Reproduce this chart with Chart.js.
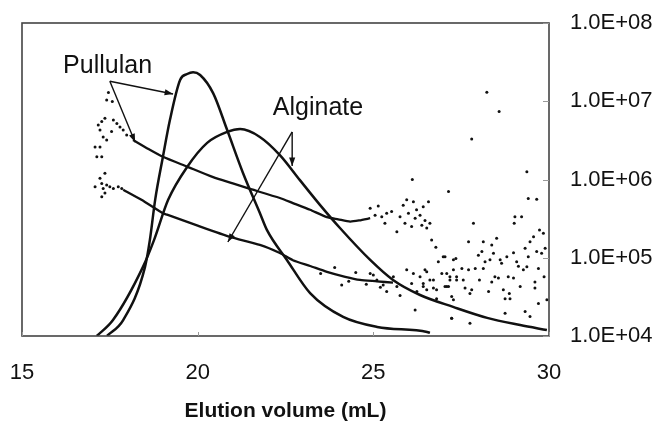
<!DOCTYPE html>
<html>
<head>
<meta charset="utf-8">
<script src="https://cdn.jsdelivr.net/npm/chart.js@4.4.0/dist/chart.umd.min.js"></script>
<style>
  body { margin: 0; background: #fff; }
</style>
</head>
<body>
<canvas id="gpc" width="659" height="425"></canvas>
<script>
// refractive index traces: [elution volume (mL), relative signal]
const pullulanRI = [[17.42,0],[17.88,5.1],[18.5,22],[18.64,30.7],[18.79,43.5],[19.01,57.2],[19.21,69],[19.5,81.8],
  [19.7,83.7],[19.87,84.3],[20.07,83.4],[20.44,77.6],[20.84,65.8],[21.29,52.1],[21.77,39.3],[21.97,33.9],
  [22.54,24.3],[23.2,13.7],[24.14,6.1],[25.11,2.9],[26.53,1.3],[26.61,1.0]];
const alginateRI = [[17.13,0],[17.59,5.1],[18.44,22],[18.76,30.7],[19.16,43.5],[19.7,54],[20.27,61.7],[20.84,65.2],
  [21.21,66.1],[21.77,63.6],[22.34,57.8],[22.91,49.8],[23.48,41.9],[24.05,34.5],[24.91,24.3],[25.56,17.9],
  [26.33,13.1],[27.27,9.3],[28.24,5.8],[29.18,3.5],[29.94,1.9]];

// molar mass traces: [elution volume (mL), g/mol]
const pullulanMw = [[18.16,3.2e6],[18.6,2.45e6],[19.01,1.95e6],[19.7,1.46e6],[20.44,1.07e6],[21.0,8.9e5],[21.4,7.8e5],
  [22.34,5.8e5],[22.71,5.0e5],[23.2,4.1e5],[23.68,3.3e5],[24.0,3.1e5],[24.34,2.9e5],[24.6,3.0e5],[24.91,3.2e5]];
const alginateMw = [[17.88,7.4e5],[18.4,5.5e5],[19.01,3.7e5],[19.13,3.55e5],[20.0,2.57e5],[20.92,1.85e5],[21.77,1.46e5],
  [22.34,1.15e5],[22.71,9.3e4],[23.2,7.85e4],[23.68,6.6e4],[24.2,5.7e4],[24.62,5.2e4],[25.1,5.0e4],[25.56,4.8e4]];

const pullulanDots = [[17.46,1.29e7],[17.41,1.04e7],[17.57,9.9e6],[17.36,6.05e6],[17.27,5.5e6],[17.17,4.97e6],
  [17.22,4.3e6],[17.31,3.5e6],[17.41,3.2e6],[17.55,4.1e6],[17.6,5.75e6],[17.7,5.2e6],[17.79,4.7e6],[17.88,4.3e6],
  [17.08,2.6e6],[17.22,2.6e6],[17.13,1.95e6],[17.27,1.95e6],[17.98,3.7e6],
  [24.91,4.3e5],[25.05,3.5e5],[25.14,4.6e5],[25.24,3.35e5],[25.33,2.75e5],[25.38,3.7e5],[25.52,3.9e5],[25.67,2.15e5],
  [25.76,3.35e5],[25.85,4.7e5],[25.9,2.75e5],[25.95,5.5e5],[26.0,3.7e5],[26.09,2.5e5],[26.14,5.2e5],[26.19,3.2e5],
  [26.23,4.1e5],[26.33,3.5e5],[26.38,2.6e5],[26.42,4.5e5],[26.47,3.0e5],[26.52,2.4e5],[26.57,5.2e5],[26.61,2.75e5],
  [26.11,1.0e6]];
const alginateDots = [[17.36,1.2e6],[17.22,1.04e6],[17.27,8.9e5],[17.08,8.1e5],[17.31,7.7e5],[17.41,8.5e5],[17.5,8.1e5],
  [17.36,6.7e5],[17.27,6.0e5],[17.6,7.7e5],[17.74,8.1e5],[17.84,7.7e5],
  [23.5,6.3e4],[23.9,7.5e4],[24.1,4.5e4],[24.3,5.0e4],[24.5,6.5e4],[24.8,4.6e4],[25.0,6.0e4],[25.2,4.2e4],
  [24.91,6.3e4],[25.1,5.2e4],[25.28,4.5e4],[25.38,3.7e4],[25.57,5.7e4],[25.67,4.3e4],[25.76,3.3e4],[25.95,7.0e4],
  [26.09,4.7e4],[26.14,6.3e4],[26.24,3.7e4],[26.33,5.7e4],[26.42,4.3e4],[26.52,6.6e4],[26.61,5.2e4],[26.71,4.1e4],
  [26.8,3.0e4],[26.95,6.3e4],[27.04,1.03e5],[27.09,4.3e4],[27.18,5.7e4],[27.23,3.2e4],[27.28,7.0e4],[27.37,5.2e4],
  [26.19,2.15e4],[27.23,1.68e4],
  [26.66,1.69e5],[26.78,1.36e5],[26.47,7.0e4],[26.71,5.2e4],[26.42,4.7e4],[26.52,3.9e4],[26.8,3.9e4],[26.85,8.9e4],
  [26.99,1.03e5],[27.09,6.3e4],[27.18,5.2e4],[27.04,4.3e4],[27.14,4.3e4],[27.28,2.9e4],[27.23,1.68e4],[27.28,9.4e4],
  [27.35,9.8e4],[27.37,5.7e4],[27.52,7.3e4],[27.56,5.2e4],[27.61,4.1e4],[27.71,1.6e5],[27.75,3.5e4],[27.71,7.0e4],
  [27.75,1.45e4],[27.8,3.9e4],[27.85,2.75e5],[27.9,7.3e4],[27.99,1.08e5],[28.02,5.2e4],[28.09,1.2e5],[28.13,1.6e5],
  [28.13,7.3e4],[28.18,8.9e4],[28.28,3.7e4],[28.32,9.4e4],[28.37,1.46e5],[28.37,4.9e4],[28.42,1.14e5],[28.46,5.7e4],
  [28.51,1.77e5],[28.56,5.5e4],[28.61,9.4e4],[28.65,8.5e4],[28.7,3.9e4],[28.75,3.0e4],[28.75,1.95e4],[28.8,1.03e5],
  [28.84,5.7e4],[28.87,3.5e4],[28.89,3.0e4],[28.99,1.16e5],[28.99,5.5e4],[29.01,2.75e5],[29.03,3.35e5],[29.08,8.9e4],
  [29.13,7.8e4],[29.18,4.3e4],[29.22,3.35e5],[29.27,7.0e4],[29.32,1.32e5],[29.32,2.05e4],[29.37,7.7e4],[29.41,1.03e5],
  [29.46,1.77e4],[29.46,1.6e5],[29.56,1.86e5],[29.6,4.9e4],[29.6,4.1e4],[29.65,1.2e5],[29.7,7.3e4],[29.7,2.6e4],
  [29.73,2.26e5],[29.79,1.14e5],[29.84,2.05e5],[29.86,5.7e4],[29.89,1.32e5],[29.94,2.9e4],
  [29.41,5.7e5],[29.65,5.6e5],[29.37,1.26e6],[28.23,1.3e7],[28.58,7.4e6],[27.8,3.3e6],[27.14,7.0e5]];

const xTicks = [15, 20, 25, 30];
const massTicks = [1e4, 1e5, 1e6, 1e7, 1e8];

// labels with arrows, positioned in data units
const notes = [
  { text: 'Pullulan', at: [16.17, 2.3e7], from: [17.5, 1.8e7], to: [[19.3, 1.24e7], [18.22, 3.0e6]] },
  { text: 'Alginate', at: [22.14, 6.7e6], from: [22.69, 4.05e6], to: [[22.69, 1.49e6], [20.86, 1.59e5]] }
];

const pts = arr => arr.map(p => ({ x: p[0], y: p[1] }));
const isDecade = v => Math.abs(Math.log10(v) - Math.round(Math.log10(v))) < 1e-9;
const sci = v => '1.0E+' + String(Math.round(Math.log10(v))).padStart(2, '0');

const frame = {
  id: 'frame',
  afterDatasetsDraw(chart) {
    const { ctx, chartArea: a, scales } = chart;
    ctx.save();
    ctx.strokeStyle = '#444';
    ctx.lineWidth = 1.6;
    ctx.strokeRect(a.left, a.top, a.right - a.left, a.bottom - a.top);
    ctx.lineWidth = 1;
    ctx.strokeStyle = '#999';
    scales.y.ticks.forEach(t => {
      const py = Math.round(scales.y.getPixelForValue(t.value)) + 0.5;
      const len = isDecade(t.value) ? 6 : 3;
      ctx.beginPath();
      ctx.moveTo(a.right, py);
      ctx.lineTo(a.right - len, py);
      ctx.stroke();
    });
    scales.x.ticks.forEach(t => {
      const px = Math.round(scales.x.getPixelForValue(t.value)) + 0.5;
      ctx.beginPath();
      ctx.moveTo(px, a.bottom);
      ctx.lineTo(px, a.bottom - 4);
      ctx.stroke();
    });
    ctx.restore();
  }
};

const labels = {
  id: 'labels',
  afterDatasetsDraw(chart) {
    const { ctx, scales: { x, y } } = chart;
    const px = p => [x.getPixelForValue(p[0]), y.getPixelForValue(p[1])];
    ctx.save();
    ctx.fillStyle = '#111';
    ctx.strokeStyle = '#111';
    ctx.font = '25px "Liberation Sans", Arial, sans-serif';
    ctx.textAlign = 'left';
    ctx.textBaseline = 'alphabetic';
    notes.forEach(n => {
      const [tx, ty] = px(n.at);
      ctx.fillText(n.text, tx, ty);
      const [fx, fy] = px(n.from);
      n.to.forEach(end => {
        const [ex, ey] = px(end);
        ctx.lineWidth = 1.4;
        ctx.beginPath();
        ctx.moveTo(fx, fy);
        ctx.lineTo(ex, ey);
        ctx.stroke();
        const ang = Math.atan2(ey - fy, ex - fx);
        ctx.beginPath();
        ctx.moveTo(ex, ey);
        ctx.lineTo(ex - 9 * Math.cos(ang - 0.35), ey - 9 * Math.sin(ang - 0.35));
        ctx.lineTo(ex - 9 * Math.cos(ang + 0.35), ey - 9 * Math.sin(ang + 0.35));
        ctx.closePath();
        ctx.fill();
      });
    });
    ctx.restore();
  }
};

const lineStyle = { showLine: true, pointRadius: 0, borderColor: '#111', borderWidth: 2.5, fill: false };
const dotStyle = { showLine: false, pointRadius: 1.5, pointBackgroundColor: '#111', pointBorderWidth: 0 };

new Chart(document.getElementById('gpc'), {
  type: 'scatter',
  data: {
    datasets: [
      { label: 'Pullulan RI', data: pts(pullulanRI), yAxisID: 'yRI', cubicInterpolationMode: 'monotone', ...lineStyle },
      { label: 'Alginate RI', data: pts(alginateRI), yAxisID: 'yRI', cubicInterpolationMode: 'monotone', ...lineStyle },
      { label: 'Pullulan Mw', data: pts(pullulanMw), yAxisID: 'y', tension: 0.2, ...lineStyle, borderWidth: 2.3 },
      { label: 'Alginate Mw', data: pts(alginateMw), yAxisID: 'y', tension: 0.2, ...lineStyle, borderWidth: 2.3 },
      { label: 'Pullulan Mw points', data: pts(pullulanDots), yAxisID: 'y', ...dotStyle },
      { label: 'Alginate Mw points', data: pts(alginateDots), yAxisID: 'y', ...dotStyle }
    ]
  },
  options: {
    responsive: false,
    animation: false,
    layout: { padding: { left: 22, top: 23, right: 0, bottom: 0 } },
    plugins: { legend: { display: false }, tooltip: { enabled: false } },
    scales: {
      x: {
        type: 'linear', min: 15, max: 30,
        afterBuildTicks: s => { s.ticks = xTicks.map(v => ({ value: v })); },
        afterFit: s => { s.height = 89; s.paddingLeft = 0; s.paddingRight = 0; },
        grid: { display: false },
        border: { display: false },
        ticks: { color: '#111', padding: 16, font: { family: '"Liberation Sans", Arial', size: 22 } },
        title: {
          display: true, text: 'Elution volume (mL)', color: '#111',
          padding: { top: 0, bottom: 1 },
          font: { family: '"Liberation Sans", Arial', size: 21, weight: 'bold' }
        }
      },
      y: {
        type: 'logarithmic', position: 'right', min: 1e4, max: 1e8,
        afterFit: s => { s.width = 110; s.paddingTop = 0; s.paddingBottom = 0; },
        grid: { display: false },
        border: { display: false },
        ticks: {
          autoSkip: false, color: '#111', padding: 13,
          font: { family: '"Liberation Sans", Arial', size: 22 },
          callback: v => isDecade(v) && massTicks.includes(Math.round(v)) ? sci(v) : null
        }
      },
      yRI: { type: 'linear', axis: 'y', position: 'left', display: false, min: 0, max: 100 }
    }
  },
  plugins: [frame, labels]
});
</script>
</body>
</html>
